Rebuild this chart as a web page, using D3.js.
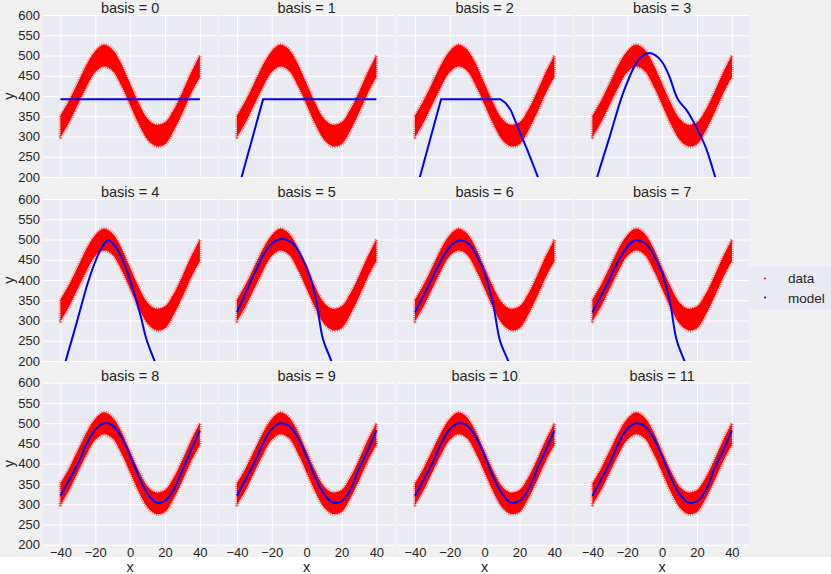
<!DOCTYPE html>
<html>
<head>
<meta charset="utf-8">
<title>Model fits by basis</title>
<script src="https://cdnjs.cloudflare.com/ajax/libs/d3/7.8.5/d3.min.js"></script>
<style>
    body { margin: 0; background: #fff; }
    text { font-family: "Liberation Sans", Arial, sans-serif; fill: #262626; }
    .grid line { stroke: #fff; stroke-width: 1; }
    .grid .domain { display: none; }
</style>
</head>
<body>
<svg id="chart"></svg>
<script>
    // noisy data band (upper / lower envelope of the dense red points)
    const dataX  = [-40, -35, -30, -25, -20, -15, -10, -5, 0, 5, 10, 15, 20, 25, 30, 35, 40];
    const dataHi = [352, 389, 433, 477, 511, 527, 514, 479, 430, 382, 344, 329, 335, 366, 410, 458, 500];
    const dataLo = [298, 335, 379, 423, 459, 473, 462, 425, 378, 330, 292, 276, 281, 314, 358, 406, 446];

    // fitted model per basis, [x, y]
    const model0  = [[-40, 392], [40, 392]];
    const model1  = [[-40, 158], [-25, 392], [40, 392]];
    const model2  = [[-40, 155], [-25, 392], [9, 392], [12, 383], [15, 365], [18, 334], [21, 302], [24, 272], [27, 239], [30, 206], [33, 172], [40, 92]];
    const model3  = [[-40, 162], [-37.3, 200], [-30, 301], [-22.5, 406], [-15, 480], [-11, 500], [-8, 506], [-4, 501], [0, 484], [4, 450], [9, 392], [14, 365], [19, 328], [25, 273], [30.4, 200], [40, 60]];
    const model4  = [[-40, 158], [-37, 200], [-30, 305], [-24, 397], [-19, 456], [-16, 482], [-12.5, 498], [-7.5, 477], [-2, 425], [2, 372], [6, 312], [9.4, 253], [14, 200], [40, -95]];
    const model5  = [[-40, 320], [-35, 368], [-29, 425], [-21.5, 483], [-15, 501], [-8, 491], [-2.5, 454], [2, 408], [5.5, 350], [9.3, 255], [14, 202], [40, -90]];
    const model6  = [[-40, 320], [-32.4, 384], [-24.8, 450], [-19, 487], [-15, 497], [-9.5, 491], [-3.8, 454], [0, 417], [4.8, 342], [8.8, 250], [13.3, 202], [40, -95]];
    const model7  = [[-40, 320], [-32, 386], [-25, 448], [-19, 487], [-15, 498], [-9.5, 490], [-4, 455], [0, 418], [4.5, 345], [8.3, 252], [12.6, 202], [40, -100]];
    const model8  = [[-40, 321], [-35, 360], [-30, 400], [-25, 448], [-20, 484], [-15, 500], [-10, 494], [-5, 466], [0, 420], [5, 368], [10, 326], [15, 304], [20, 308], [25, 336], [30, 384], [35, 434], [40, 482]];
    const model9  = [[-40, 321], [-35, 361], [-30, 402], [-25, 450], [-20, 486], [-15, 500], [-10, 493], [-5, 464], [0, 418], [5, 366], [10, 325], [15, 304], [20, 307], [25, 334], [30, 388], [35, 432], [40, 482]];
    const model10 = [[-40, 321], [-35, 360], [-30, 401], [-25, 449], [-20, 485], [-15, 500], [-10, 494], [-5, 465], [0, 419], [5, 367], [10, 326], [15, 304], [20, 308], [25, 335], [30, 386], [35, 433], [40, 482]];
    const model11 = [[-40, 321], [-35, 361], [-30, 402], [-25, 450], [-20, 486], [-15, 500], [-10, 493], [-5, 464], [0, 418], [5, 366], [10, 325], [15, 304], [20, 307], [25, 334], [30, 388], [35, 432], [40, 482]];
    const models = [model0, model1, model2, model3, model4, model5, model6, model7, model8, model9, model10, model11];

    const xTicks = [-40, -20, 0, 20, 40];
    const yTicks = [200, 250, 300, 350, 400, 450, 500, 550, 600];
    const legendLabels = ["data", "model"];
    const legendColors = ["#ff0000", "#0000ff"];

    const width = 831, height = 574;
    const colLeft = [43, 219.5, 397.5, 575];
    const rowTop = [15, 199, 382.7];
    const pw = 174.3, ph = 162;

    const svg = d3.select("#chart").attr("width", width).attr("height", height);

    // figure background
    svg.append("rect").attr("width", width).attr("height", height).attr("fill", "#fff");
    svg.append("rect").attr("width", width).attr("height", 557).attr("fill", "#f0f0f0");

    const x = d3.scaleLinear().domain([-50, 50]).range([0, pw]);
    const y = d3.scaleLinear().domain([200, 600]).range([ph, 0]);

    const band = d3.area()
        .x((d, i) => x(dataX[i]))
        .y0((d, i) => y(dataLo[i]))
        .y1((d, i) => y(dataHi[i]))
        .curve(d3.curveCatmullRom);

    const straight = d3.line().x(d => x(d[0])).y(d => y(d[1]));
    const smooth = d3.line().x(d => x(d[0])).y(d => y(d[1])).curve(d3.curveCatmullRom);

    models.forEach((m, k) => {
        const row = Math.floor(k / 4), col = k % 4;
        const g = svg.append("g").attr("transform", `translate(${colLeft[col]},${rowTop[row]})`);

        g.append("rect").attr("width", pw).attr("height", ph).attr("fill", "#eaeaf2");

        g.append("clipPath").attr("id", "clip" + k)
            .append("rect").attr("width", pw).attr("height", ph);

        // grid + tick labels
        g.append("g").attr("class", "grid")
            .call(d3.axisLeft(y).tickValues(yTicks).tickSize(-pw).tickPadding(3)
                .tickFormat(col === 0 ? d3.format("d") : ""));
        g.append("g").attr("class", "grid")
            .attr("transform", `translate(0,${ph})`)
            .call(d3.axisBottom(x).tickValues(xTicks).tickSize(-ph).tickPadding(3)
                .tickFormat(row === 2 ? d3.format("d") : ""));
        g.selectAll(".grid text").attr("font-size", 13).attr("fill", "#262626");

        const plot = g.append("g").attr("clip-path", `url(#clip${k})`);

        // speckled fringe, then the dense core
        plot.append("path")
            .datum(dataX)
            .attr("d", band)
            .attr("fill", "none")
            .attr("stroke", "#ff0000")
            .attr("stroke-width", 3.5)
            .attr("stroke-linejoin", "round")
            .attr("stroke-opacity", 0.6)
            .attr("stroke-dasharray", "0.8,1.3");
        plot.append("path")
            .datum(dataX)
            .attr("d", band)
            .attr("fill", "#ff0000");

        plot.append("path")
            .datum(m)
            .attr("d", k < 3 ? straight : smooth)
            .attr("fill", "none")
            .attr("stroke", "#0000ff")
            .attr("stroke-width", 2);

        g.append("text")
            .attr("x", pw / 2)
            .attr("y", -2)
            .attr("text-anchor", "middle")
            .attr("font-size", 14.5)
            .text(`basis = ${k}`);

        if (col === 0) {
            g.append("text")
                .attr("transform", `translate(-29,${ph / 2}) rotate(-90)`)
                .attr("text-anchor", "middle")
                .attr("font-size", 14.5)
                .text("y");
        }
        if (row === 2) {
            g.append("text")
                .attr("x", x(0))
                .attr("y", ph + 27)
                .attr("text-anchor", "middle")
                .attr("font-size", 14.5)
                .text("x");
        }
    });

    // legend
    const legend = svg.append("g").attr("transform", "translate(749,267)");
    legend.append("rect").attr("width", 90).attr("height", 42).attr("fill", "#eaeaf2");
    legendLabels.forEach((name, i) => {
        legend.append("circle")
            .attr("cx", 16).attr("cy", 11.5 + i * 19)
            .attr("r", 1)
            .attr("fill", legendColors[i]);
        legend.append("text")
            .attr("x", 39).attr("y", 16 + i * 19.5)
            .attr("font-size", 13.5)
            .text(name);
    });
</script>
</body>
</html>
